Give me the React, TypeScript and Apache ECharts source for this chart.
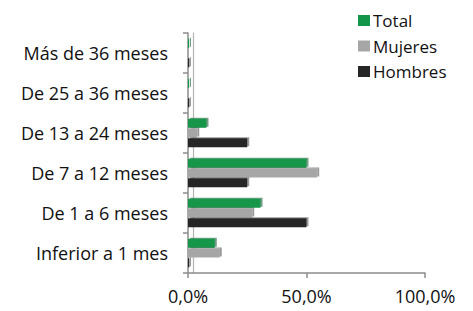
import React, { useEffect, useRef } from "react";
import * as echarts from "echarts";

const categories = [
  "Inferior a 1 mes",
  "De 1 a 6 meses",
  "De 7 a 12 meses",
  "De 13 a 24 meses",
  "De 25 a 36 meses",
  "Más de 36 meses",
];
const total = [11.3, 30.6, 50.0, 7.8, 0.5, 0.5];
const mujeres = [13.4, 27.1, 54.5, 3.9, 0.3, 0.3];
const hombres = [0.6, 50.0, 25.0, 25.0, 0.6, 0.6];
const xTicks = [0, 50, 100];

const FONT = "Open Sans";
const FS = 18;

export default function App() {
  const ref = useRef<HTMLDivElement>(null);
  useEffect(() => {
    const chart = echarts.init(ref.current!, null, { renderer: "svg" });
    const fmt = (v: number) => v.toFixed(1).replace(".", ",") + "%";
    const axisColor = "#8c8c8c";
    chart.setOption({
      animation: false,
      textStyle: { fontFamily: FONT },
      legend: {
        orient: "vertical",
        left: 358,
        top: 8,
        padding: 0,
        itemWidth: 12,
        itemHeight: 11,
        itemGap: 0.5,
        icon: "rect",
        data: ["Total", "Mujeres", "Hombres"],
        textStyle: { fontFamily: FONT, fontSize: 17, color: "#111", padding: [0, 0, 0, -2], lineHeight: 25 },
      },
      grid: { left: 188, right: 48, top: 33, bottom: 38, containLabel: false },
      xAxis: {
        type: "value",
        min: 0,
        max: xTicks[xTicks.length - 1],
        interval: 50,
        axisLine: { show: true, lineStyle: { color: axisColor, width: 1.5 } },
        axisTick: { show: true, length: 5, lineStyle: { color: axisColor, width: 1.5 } },
        splitLine: { show: false },
        axisLabel: { formatter: fmt, fontFamily: FONT, fontSize: FS, color: "#111", margin: 14 },
      },
      yAxis: [
        {
          type: "category",
          data: categories,
          axisLine: { show: true, lineStyle: { color: axisColor, width: 1.5 } },
          axisTick: { show: true, length: 5, lineStyle: { color: axisColor, width: 1.5 } },
          axisLabel: { fontFamily: FONT, fontSize: FS, color: "#111", margin: 20 },
        },
        {
          type: "category",
          data: categories,
          position: "left",
          offset: -5,
          axisLine: { show: true, lineStyle: { color: "#b4b4b4", width: 1.2 } },
          axisTick: { show: false },
          axisLabel: { show: false },
        },
      ],
      series: [
        {
          name: "Total",
          type: "bar",
          data: total,
          barWidth: 9,
          barGap: "8%",
          itemStyle: { color: "#14964a", shadowColor: "rgba(0,70,30,0.55)", shadowOffsetX: 2, shadowOffsetY: -1 },
        },
        {
          name: "Mujeres",
          type: "bar",
          data: mujeres,
          barWidth: 9,
          barGap: "8%",
          itemStyle: { color: "#a6a6a6", shadowColor: "rgba(0,0,0,0.4)", shadowOffsetX: 2, shadowOffsetY: -1 },
        },
        {
          name: "Hombres",
          type: "bar",
          data: hombres,
          barWidth: 9,
          barGap: "8%",
          itemStyle: { color: "#262626", shadowColor: "rgba(0,0,0,0.4)", shadowOffsetX: 2, shadowOffsetY: -1 },
        },
      ],
    });
    return () => chart.dispose();
  }, []);
  return <div ref={ref} style={{ width: 473, height: 311, position: "absolute", left: 0, top: 0 }} />;
}
